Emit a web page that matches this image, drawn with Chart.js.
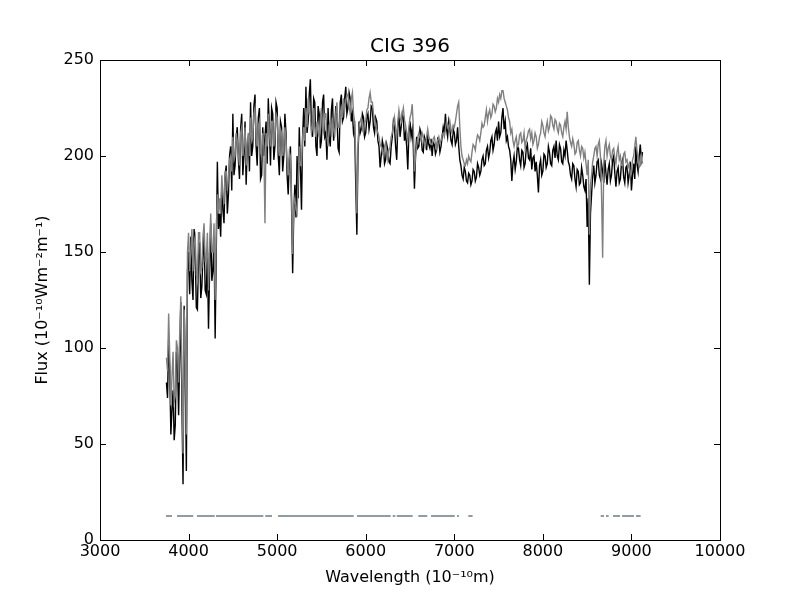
<!DOCTYPE html>
<html>
<head>
<meta charset="utf-8">
<title>CIG 396</title>
<script src="https://cdn.jsdelivr.net/npm/chart.js@4.4.1/dist/chart.umd.min.js"></script>
<style>
  html, body { margin: 0; padding: 0; background: #fff; }
  #wrap { width: 800px; height: 600px; }
</style>
</head>
<body>
<div id="wrap"><canvas id="spectrum" width="800" height="600"></canvas></div>
<script>
// wavelength grid (Angstrom), 16 samples per row
const wavelength = [
  3750,3762.5,3775,3787.5,3800,3812.5,3825,3837.5,3850,3862.5,3875,3887.5,3900,3912.5,3925,3937.5,
  3950,3962.5,3975,3987.5,4000,4012.5,4025,4037.5,4050,4062.5,4075,4087.5,4100,4112.5,4125,4137.5,
  4150,4162.5,4175,4187.5,4200,4212.5,4225,4237.5,4250,4262.5,4275,4287.5,4300,4312.5,4325,4337.5,
  4350,4362.5,4375,4387.5,4400,4412.5,4425,4437.5,4450,4462.5,4475,4487.5,4500,4512.5,4525,4537.5,
  4550,4562.5,4575,4587.5,4600,4612.5,4625,4637.5,4650,4662.5,4675,4687.5,4700,4712.5,4725,4737.5,
  4750,4762.5,4775,4787.5,4800,4812.5,4825,4837.5,4850,4862.5,4875,4887.5,4900,4912.5,4925,4937.5,
  4950,4962.5,4975,4987.5,5000,5012.5,5025,5037.5,5050,5062.5,5075,5087.5,5100,5112.5,5125,5137.5,
  5150,5162.5,5175,5187.5,5200,5212.5,5225,5237.5,5250,5262.5,5275,5287.5,5300,5312.5,5325,5337.5,
  5350,5362.5,5375,5387.5,5400,5412.5,5425,5437.5,5450,5462.5,5475,5487.5,5500,5512.5,5525,5537.5,
  5550,5562.5,5575,5587.5,5600,5612.5,5625,5637.5,5650,5662.5,5675,5687.5,5700,5712.5,5725,5737.5,
  5750,5762.5,5775,5787.5,5800,5812.5,5825,5837.5,5850,5862.5,5875,5887.5,5900,5912.5,5925,5937.5,
  5950,5962.5,5975,5987.5,6000,6012.5,6025,6037.5,6050,6062.5,6075,6087.5,6100,6112.5,6125,6137.5,
  6150,6162.5,6175,6187.5,6200,6212.5,6225,6237.5,6250,6262.5,6275,6287.5,6300,6312.5,6325,6337.5,
  6350,6362.5,6375,6387.5,6400,6412.5,6425,6437.5,6450,6462.5,6475,6487.5,6500,6512.5,6525,6537.5,
  6550,6562.5,6575,6587.5,6600,6612.5,6625,6637.5,6650,6662.5,6675,6687.5,6700,6712.5,6725,6737.5,
  6750,6762.5,6775,6787.5,6800,6812.5,6825,6837.5,6850,6862.5,6875,6887.5,6900,6912.5,6925,6937.5,
  6950,6962.5,6975,6987.5,7000,7012.5,7025,7037.5,7050,7062.5,7075,7087.5,7100,7112.5,7125,7137.5,
  7150,7162.5,7175,7187.5,7200,7212.5,7225,7237.5,7250,7262.5,7275,7287.5,7300,7312.5,7325,7337.5,
  7350,7362.5,7375,7387.5,7400,7412.5,7425,7437.5,7450,7462.5,7475,7487.5,7500,7512.5,7525,7537.5,
  7550,7562.5,7575,7587.5,7600,7612.5,7625,7637.5,7650,7662.5,7675,7687.5,7700,7712.5,7725,7737.5,
  7750,7762.5,7775,7787.5,7800,7812.5,7825,7837.5,7850,7862.5,7875,7887.5,7900,7912.5,7925,7937.5,
  7950,7962.5,7975,7987.5,8000,8012.5,8025,8037.5,8050,8062.5,8075,8087.5,8100,8112.5,8125,8137.5,
  8150,8162.5,8175,8187.5,8200,8212.5,8225,8237.5,8250,8262.5,8275,8287.5,8300,8312.5,8325,8337.5,
  8350,8362.5,8375,8387.5,8400,8412.5,8425,8437.5,8450,8462.5,8475,8487.5,8500,8512.5,8525,8537.5,
  8550,8562.5,8575,8587.5,8600,8612.5,8625,8637.5,8650,8662.5,8675,8687.5,8700,8712.5,8725,8737.5,
  8750,8762.5,8775,8787.5,8800,8812.5,8825,8837.5,8850,8862.5,8875,8887.5,8900,8912.5,8925,8937.5,
  8950,8962.5,8975,8987.5,9000,9012.5,9025,9037.5,9050,9062.5,9075,9087.5,9100,9112.5,9125
];

// observed flux (black)
const fluxObserved = [
  82,74,105,88,55,68,78,52,60,98,92,65,95,124,70,29,
  122,90,36,140,150,128,158,135,125,162,150,121,120,148,155,126,
  132,148,160,130,128,150,110,140,165,135,140,158,105,150,197,162,
  170,158,185,172,165,190,195,170,180,200,205,182,222,190,195,210,
  215,198,188,214,222,190,200,218,185,205,210,192,228,200,205,226,
  232,205,195,220,225,188,190,215,200,210,218,196,230,214,195,225,
  222,198,205,228,225,200,190,218,215,192,200,222,212,190,180,198,
  205,175,139,170,185,168,200,178,215,195,172,210,225,205,236,212,
  218,232,240,214,210,230,228,205,200,226,222,204,208,228,232,210,
  212,198,225,210,205,224,230,208,215,226,222,204,202,228,232,218,
  220,230,236,222,225,233,230,218,222,212,215,185,159,200,218,212,
  214,222,220,210,212,220,222,214,218,226,225,215,212,220,218,208,
  205,194,200,208,205,196,198,206,203,197,196,205,210,218,215,205,
  198,215,222,210,215,222,220,208,212,205,193,212,218,210,214,205,
  183,200,210,204,205,214,212,203,202,210,208,203,210,206,204,209,
  200,207,206,201,203,209,208,202,205,210,215,212,222,214,210,218,
  214,208,206,214,212,206,208,215,205,198,195,190,188,194,192,187,
  186,191,190,185,187,193,192,187,189,196,194,190,192,198,200,195,
  196,203,205,199,202,208,210,203,206,212,214,208,218,210,212,220,
  225,214,218,208,210,205,203,198,187,196,200,193,197,205,204,198,
  195,203,202,194,196,204,206,199,198,204,193,199,200,192,197,190,
  181,195,198,190,192,201,200,194,196,205,202,196,195,203,205,199,
  208,200,198,206,204,197,196,203,200,208,203,197,195,190,188,196,
  195,188,184,193,192,185,186,194,190,184,182,188,163,178,133,170,
  180,190,195,186,190,197,198,190,188,196,192,186,198,191,185,193,
  196,187,190,198,200,191,184,192,194,186,188,196,198,189,186,194,
  195,186,190,197,182,190,196,188,205,196,192,200,206,198,202
];

// model flux (grey)
const fluxModel = [
  95,88,118,96,70,85,98,72,75,104,100,82,108,127,85,45,
  120,100,55,150,160,140,150,162,140,155,158,138,135,160,160,140,
  142,158,165,145,145,160,130,152,170,150,150,165,125,160,180,170,
  178,170,190,180,175,192,192,182,188,198,200,192,210,198,200,212,
  208,200,195,212,215,200,205,215,195,208,212,200,220,208,210,222,
  225,210,205,215,218,202,200,212,205,165,212,205,222,212,205,218,
  218,205,210,222,220,205,200,214,212,200,205,215,208,196,190,202,
  200,180,149,175,178,172,170,188,205,195,195,210,215,208,225,215,
  230,222,222,212,215,225,215,210,218,212,210,220,225,214,212,222,
  222,210,205,216,218,210,220,214,210,222,228,215,215,222,225,220,
  230,224,228,232,232,225,222,230,233,222,218,200,170,205,215,218,
  220,214,212,218,218,224,225,230,233,228,228,222,220,216,214,212,
  210,206,205,202,200,205,207,202,198,203,205,210,212,216,220,214,
  210,218,224,220,218,222,225,219,216,212,208,215,220,222,227,215,
  192,200,205,210,212,210,208,212,210,207,205,210,214,210,208,206,
  206,209,210,206,204,208,210,207,208,211,212,210,214,218,216,214,
  218,214,212,216,215,218,222,226,228,215,205,200,198,196,195,198,
  196,200,198,197,202,206,205,203,208,211,210,208,212,217,215,216,
  220,224,218,222,224,220,222,227,226,223,225,230,228,232,230,234,
  234,230,228,226,224,220,218,212,214,208,205,208,210,205,206,211,
  212,207,208,212,204,208,210,213,214,209,212,206,208,212,210,204,
  206,210,212,218,216,212,210,215,218,213,215,221,220,216,214,219,
  218,214,212,217,216,212,210,215,218,214,223,215,210,207,205,209,
  206,201,202,207,208,203,200,205,204,199,202,196,190,198,159,185,
  190,197,200,204,205,200,206,208,200,180,147,196,205,208,200,204,
  206,200,198,203,204,199,196,202,205,198,200,195,195,201,202,197,
  198,194,196,190,192,198,200,205,210,203,198,194,195,200,196
];

// masked wavelength ranges, drawn at a fixed flux level
const maskStart = [3745,3869,4095,4310,4866,5010,5902,6305,6350,6594,6737,7030,7158,8653,8713,8792,8894,9052];
const maskEnd   = [3813,4053,4295,4844,4942,5864,6282,6334,6530,6695,7005,7052,7207,8690,8743,8871,9029,9104];
const maskLevel = 12.5;

const xTicks = [3000, 4000, 5000, 6000, 7000, 8000, 9000, 10000];
const yTicks = [0, 50, 100, 150, 200, 250];

const FONT = '"DejaVu Sans", "Liberation Sans", sans-serif';

const observedPoints = wavelength.map((w, i) => ({ x: w, y: fluxObserved[i] }));
const modelPoints = wavelength.map((w, i) => ({ x: w, y: fluxModel[i] }));
const maskPoints = [];
maskStart.forEach((s, i) => {
    maskPoints.push({ x: s, y: maskLevel });
    maskPoints.push({ x: maskEnd[i], y: maskLevel });
    maskPoints.push({ x: (maskEnd[i] + (maskStart[i + 1] || maskEnd[i])) / 2, y: null });
});

// matplotlib-like frame, inward ticks and title
const framePlugin = {
    id: 'frame',
    afterDatasetsDraw(chart) {
        const { ctx, chartArea: a, scales } = chart;
        const x = scales.x, y = scales.y;
        ctx.save();
        ctx.strokeStyle = '#000';
        ctx.lineWidth = 1;
        ctx.strokeRect(a.left + 0.5, a.top + 0.5, a.right - a.left, a.bottom - a.top);
        ctx.beginPath();
        xTicks.forEach(v => {
            const px = Math.round(x.getPixelForValue(v)) + 0.5;
            ctx.moveTo(px, a.bottom);
            ctx.lineTo(px, a.bottom - 6);
            ctx.moveTo(px, a.top);
            ctx.lineTo(px, a.top + 6);
        });
        yTicks.forEach(v => {
            const py = Math.round(y.getPixelForValue(v)) + 0.5;
            ctx.moveTo(a.left, py);
            ctx.lineTo(a.left + 6, py);
            ctx.moveTo(a.right, py);
            ctx.lineTo(a.right - 6, py);
        });
        ctx.stroke();
        ctx.fillStyle = '#000';
        ctx.font = '20px ' + FONT;
        ctx.textAlign = 'center';
        ctx.textBaseline = 'middle';
        ctx.fillText('CIG 396', (a.left + a.right) / 2, 47);
        ctx.restore();
    }
};

new Chart(document.getElementById('spectrum'), {
    type: 'line',
    data: {
        datasets: [
            {
                label: 'mask',
                data: maskPoints,
                borderColor: '#6c7c86',
                borderWidth: 1.6,
                pointRadius: 0,
                spanGaps: false,
                order: 0
            },
            {
                label: 'model',
                data: modelPoints,
                borderColor: '#808080',
                borderWidth: 1.4,
                pointRadius: 0,
                tension: 0,
                order: 1
            },
            {
                label: 'observed',
                data: observedPoints,
                borderColor: '#000000',
                borderWidth: 1.4,
                pointRadius: 0,
                tension: 0,
                order: 2
            }
        ]
    },
    options: {
        responsive: false,
        animation: false,
        devicePixelRatio: 1,
        layout: { padding: { top: 60, right: 80, left: 0, bottom: 0 } },
        plugins: {
            legend: { display: false },
            tooltip: { enabled: false },
            title: { display: false }
        },
        scales: {
            x: {
                type: 'linear',
                min: 3000,
                max: 10000,
                afterFit: s => { s.height = 60; },
                afterBuildTicks: s => { s.ticks = xTicks.map(v => ({ value: v })); },
                grid: { display: false, drawTicks: false },
                border: { display: false },
                ticks: {
                    color: '#000',
                    padding: 2,
                    font: { family: FONT, size: 16 },
                    callback: v => String(v)
                },
                title: {
                    display: true,
                    text: 'Wavelength (10\u207B\u00B9\u2070m)',
                    color: '#000',
                    font: { family: FONT, size: 16 },
                    padding: { top: 0, bottom: 13 }
                }
            },
            y: {
                type: 'linear',
                min: 0,
                max: 250,
                afterFit: s => { s.width = 100; },
                afterBuildTicks: s => { s.ticks = yTicks.map(v => ({ value: v })); },
                grid: { display: false, drawTicks: false },
                border: { display: false },
                ticks: {
                    color: '#000',
                    padding: 6,
                    font: { family: FONT, size: 16 },
                    callback: v => String(v)
                },
                title: {
                    display: true,
                    text: 'Flux (10\u207B\u00B9\u2070Wm\u207B\u00B2m\u207B\u00B9)',
                    color: '#000',
                    font: { family: FONT, size: 16 },
                    padding: { top: 33, bottom: 0 }
                }
            }
        }
    },
    plugins: [framePlugin]
});
</script>
</body>
</html>
